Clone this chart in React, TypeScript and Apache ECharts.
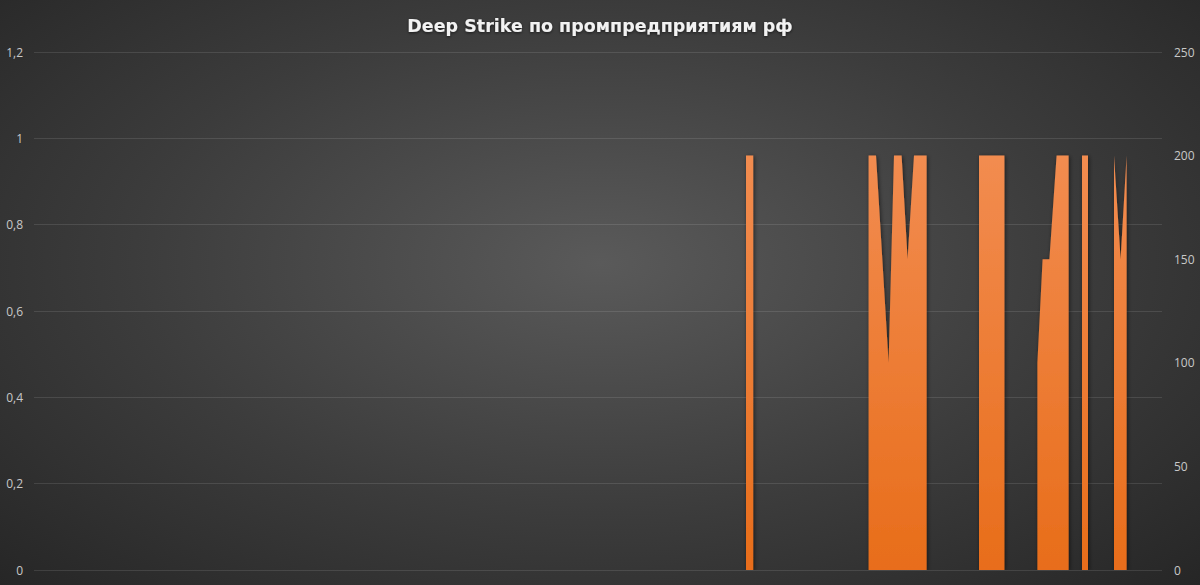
import React, { useEffect, useRef } from 'react';
import * as echarts from 'echarts';

// x = day index across the period, value = strike intensity (right axis)
const strikeDays = [
  0, 356, 356, 359.6, 359.6,
  417.3, 417.3, 421, 427.3, 430, 433.8, 436.8, 440, 446.3, 446.3,
  472.5, 472.5, 485.2, 485.2,
  501.7, 501.7, 504.3, 507.7, 511.3, 517.3, 517.3,
  524, 524, 527, 527,
  540, 540, 543.3, 546.3, 546.3, 564
];
const strikeValues = [
  0, 0, 200, 200, 0,
  0, 200, 200, 100, 200, 200, 150, 200, 200, 0,
  0, 200, 200, 0,
  0, 100, 150, 150, 200, 200, 0,
  0, 200, 200, 0,
  0, 200, 150, 200, 0, 0
];

const leftTicks = { min: 0, max: 1.2, interval: 0.2 };
const rightTicks = { min: 0, max: 250, interval: 50 };
const dayRange = { min: 0, max: 564 };

const App = () => {
  const chartRef = useRef<HTMLDivElement>(null);

  useEffect(() => {
    document.body.style.margin = '0';
    if (!chartRef.current) return;

    const chart = echarts.init(chartRef.current, null, { renderer: 'svg' });

    const labelStyle = {
      color: '#c8c8c8',
      fontSize: 12,
      fontFamily: "'Open Sans', sans-serif"
    };

    const option = {
      animation: false,
      backgroundColor: 'transparent',
      title: {
        text: 'Deep Strike по промпредприятиям рф',
        left: 'center',
        top: 12,
        textStyle: {
          color: '#f2f2f2',
          fontSize: 17.5,
          fontWeight: 'bold',
          fontFamily: "'DejaVu Sans', sans-serif",
          textShadowColor: 'rgba(0,0,0,0.6)',
          textShadowBlur: 3,
          textShadowOffsetY: 1
        }
      },
      grid: { left: 34, right: 38, top: 52, bottom: 15, containLabel: false },
      xAxis: {
        type: 'value',
        min: dayRange.min,
        max: dayRange.max,
        show: false
      },
      yAxis: [
        {
          type: 'value',
          min: leftTicks.min,
          max: leftTicks.max,
          interval: leftTicks.interval,
          axisLine: { show: false },
          axisTick: { show: false },
          axisLabel: {
            ...labelStyle,
            margin: 11,
            formatter: (v: number) => String(Math.round(v * 10) / 10).replace('.', ',')
          },
          splitLine: { lineStyle: { color: 'rgba(255,255,255,0.11)', width: 1 } }
        },
        {
          type: 'value',
          min: rightTicks.min,
          max: rightTicks.max,
          interval: rightTicks.interval,
          position: 'right',
          axisLine: { show: false },
          axisTick: { show: false },
          axisLabel: { ...labelStyle, margin: 12 },
          splitLine: { show: false }
        }
      ],
      series: [
        {
          name: 'left',
          type: 'line',
          yAxisIndex: 0,
          data: [],
          silent: true
        },
        {
          name: 'Deep Strike',
          type: 'line',
          yAxisIndex: 1,
          data: strikeDays.map((d, i) => [d, strikeValues[i]]),
          showSymbol: false,
          lineStyle: { width: 0 },
          areaStyle: {
            opacity: 1,
            color: new echarts.graphic.LinearGradient(0, 0, 0, 1, [
              { offset: 0, color: '#f28c50' },
              { offset: 1, color: '#e86d1a' }
            ]),
            shadowColor: 'rgba(0,0,0,0.55)',
            shadowBlur: 4,
            shadowOffsetX: 1,
            shadowOffsetY: 1
          }
        }
      ]
    };

    chart.setOption(option);

    const handleResize = () => chart.resize();
    window.addEventListener('resize', handleResize);

    return () => {
      window.removeEventListener('resize', handleResize);
      chart.dispose();
    };
  }, []);

  return (
    <div
      ref={chartRef}
      style={{
        width: 1200,
        height: 585,
        background: 'radial-gradient(ellipse at 50% 45%, #5a5a5a 0%, #3c3c3c 55%, #262626 100%)'
      }}
    />
  );
};

export default App;
